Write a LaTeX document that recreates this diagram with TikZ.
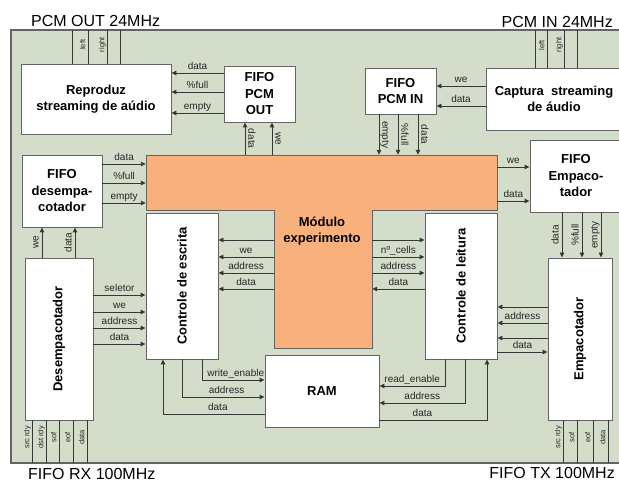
\documentclass[tikz,border=0pt]{standalone}
\usepackage{fontspec}
\usepackage{graphicx}
\setmainfont{Liberation Sans}
\usetikzlibrary{arrows.meta,calc}
\definecolor{bg}{RGB}{212,221,202}
\definecolor{orng}{RGB}{248,176,124}
\definecolor{bord}{RGB}{100,100,100}
\definecolor{wire}{RGB}{55,55,55}
\begin{document}
\begin{tikzpicture}[x=1pt,y=-1pt,
  box/.style={draw=bord, fill=white, line width=0.9pt, inner sep=0pt, align=center,
              font=\fontsize{13}{16.5}\selectfont\bfseries},
  sig/.style={draw=wire, line width=0.9pt},
  arr/.style={sig, -{Triangle[length=5pt,width=4.5pt]}},
  lab/.style={font=\fontsize{10}{11}\selectfont, text=black!85, inner sep=1pt,
              text height=7pt, text depth=2pt},
  tiny/.style={font=\fontsize{7.5}{8}\selectfont, text=black!85, inner sep=0.8pt,
               text height=5.5pt, text depth=1.5pt, rotate=90, anchor=south},
  title/.style={font=\fontsize{16}{17}\selectfont, inner sep=0pt}
]
\useasboundingbox (0,0) rectangle (619,481);
\clip (0,0) rectangle (619,481);
\fill[white] (0,0) rectangle (619,481);

% titles
\node[title, anchor=base west] (t1) at (31,27) {PCM OUT 24MHz};
\node[title, anchor=base east] (t2) at (613,28) {PCM IN 24MHz};
\node[title, anchor=base west] (t3) at (28,479) {FIFO RX 100MHz};
\node[title, anchor=base east] (t4) at (615,478.5) {FIFO TX 100MHz};

% frame
\path[fill=bg, draw=bord, line width=1.4pt] (11,30) rectangle (650,463);
\coordinate (ftop) at (0,30);
\coordinate (fbot) at (0,463);

% Modulo experimento (T shape)
\path[fill=orng, draw=bord, line width=0.9pt] (146,155) -- (497,155) -- (497,210) -- (372,210)
  -- (372,348) -- (274,348) -- (274,210) -- (146,210) -- cycle;
\node[inner sep=0pt, minimum width=351pt, minimum height=55pt] (modbar) at (321.5,182.5) {};
\node[inner sep=0pt, minimum width=98pt, minimum height=138pt] (modstem) at (323,279) {};
\node[align=center, inner sep=0pt, font=\fontsize{13}{16.5}\selectfont\bfseries] (modtxt) at (322,231) {Módulo\\experimento};

% boxes
\node[box, minimum width=150pt, minimum height=70pt] (repro) at (96,99) {Reproduz\\streaming de aúdio};
\node[box, minimum width=71pt, minimum height=56pt] (fpo) at (259.5,94) {FIFO\\PCM\\OUT};
\node[box, minimum width=71pt, minimum height=46pt] (fpi) at (400.5,91) {FIFO\\PCM IN};
\node[box, minimum width=136pt, minimum height=62pt] (cap) at (554,99) {Captura\ \ streaming\\de áudio};
\node[box, minimum width=92pt, minimum height=72pt] (fe) at (576,176) {FIFO\\Empaco-\\tador};
\node[box, minimum width=80pt, minimum height=72pt] (fd) at (62,191) {FIFO\\desempa-\\cotador};
\node[box, minimum width=68pt, minimum height=162pt] (desemp) at (59,339) {\rotatebox{90}{Desempacotador}};
\node[box, minimum width=72pt, minimum height=146pt] (ce) at (182,286) {\rotatebox{90}{Controle de escrita}};
\node[box, minimum width=72pt, minimum height=146pt] (cl) at (461,286) {\rotatebox{90}{Controle de leitura}};
\node[box, minimum width=64pt, minimum height=162pt] (emp) at (580,339) {\rotatebox{90}{Empacotador}};
\node[box, minimum width=114pt, minimum height=72pt] (ram) at (322,391) {RAM};

% audio pins
\draw[sig] (repro.north -| 72,0) -- (ftop -| 72,0);
\draw[sig] (repro.north -| 88,0) -- node[tiny, pos=0.56] {left} (ftop -| 88,0);
\draw[sig] (repro.north -| 107,0) -- node[tiny, pos=0.56] {right} (ftop -| 107,0);
\draw[sig] (repro.north -| 120,0) -- (ftop -| 120,0);
\draw[sig] (cap.north -| 535,0) -- (ftop -| 535,0);
\draw[sig] (cap.north -| 547,0) -- node[tiny, pos=0.6] {left} (ftop -| 547,0);
\draw[sig] (cap.north -| 564,0) -- node[tiny, pos=0.6] {right} (ftop -| 564,0);
\draw[sig] (cap.north -| 577,0) -- (ftop -| 577,0);

% FIFO pins
\draw[sig] (desemp.south -| 32,0) -- node[tiny, pos=0.4] {src rdy} (fbot -| 32,0);
\draw[sig] (desemp.south -| 46,0) -- node[tiny, pos=0.4] {dst rdy} (fbot -| 46,0);
\draw[sig] (desemp.south -| 59,0) -- node[tiny, pos=0.4] {sof} (fbot -| 59,0);
\draw[sig] (desemp.south -| 73,0) -- node[tiny, pos=0.4] {eof} (fbot -| 73,0);
\draw[sig] (desemp.south -| 87,0) -- node[tiny, pos=0.4] {data} (fbot -| 87,0);
\draw[sig] (emp.south -| 563,0) -- node[tiny, pos=0.4] {src rdy} (fbot -| 563,0);
\draw[sig] (emp.south -| 577,0) -- node[tiny, pos=0.4] {sof} (fbot -| 577,0);
\draw[sig] (emp.south -| 593,0) -- node[tiny, pos=0.4] {eof} (fbot -| 593,0);
\draw[sig] (emp.south -| 608,0) -- node[tiny, pos=0.4] {data} (fbot -| 608,0);

% FIFO PCM OUT -> Reproduz
\foreach \y/\t in {73/data,92/{\%full},113/empty}
  \draw[arr] (fpo.west |- 0,\y) -- node[lab, above] {\t} (repro.east |- 0,\y);
% Modulo -> FIFO PCM OUT
\draw[arr] (modbar.north -| 245,0) -- node[lab, rotate=-90, anchor=south] {data} (fpo.south -| 245,0);
\draw[arr] (modbar.north -| 272,0) -- node[lab, rotate=-90, anchor=south] {we} (fpo.south -| 272,0);
% Captura -> FIFO PCM IN
\foreach \y/\t in {86/we,106/data}
  \draw[arr] (cap.west |- 0,\y) -- node[lab, above] {\t} (fpi.east |- 0,\y);
% FIFO PCM IN -> Modulo
\foreach \x/\t in {379/empty,398/{\%full},418/data}
  \draw[arr] (fpi.south -| \x,0) -- node[lab, rotate=-90, anchor=south] {\t} (modbar.north -| \x,0);
% FIFO desempacotador -> Modulo
\foreach \y/\t in {164/data,183/{\%full},203/empty}
  \draw[arr] (fd.east |- 0,\y) -- node[lab, above] {\t} (modbar.west |- 0,\y);
% Desempacotador -> FIFO desempacotador
\draw[arr] (desemp.north -| 42,0) -- node[lab, rotate=90, anchor=south] {we} (fd.south -| 42,0);
\draw[arr] (desemp.north -| 75,0) -- node[lab, rotate=90, anchor=south] {data} (fd.south -| 75,0);
% Desempacotador -> Controle de escrita
\foreach \y/\t in {295/seletor,312/we,328/address,344/data}
  \draw[arr] (desemp.east |- 0,\y) -- node[lab, above] {\t} (ce.west |- 0,\y);
% Modulo -> Controle de escrita
\foreach \y/\t in {240/{},257/we,273/address,289/data}
  \draw[arr] (modstem.west |- 0,\y) -- node[lab, above] {\t} (ce.east |- 0,\y);
% Modulo <-> Controle de leitura
\foreach \y/\t in {240/{},257/{nº\_cells},273/address}
  \draw[arr] (modstem.east |- 0,\y) -- node[lab, above] {\t} (cl.west |- 0,\y);
\draw[arr] (cl.west |- 0,289) -- node[lab, above] {data} (modstem.east |- 0,289);
% Modulo -> FIFO Empacotador
\foreach \y/\t in {167/we,201/data}
  \draw[arr] (modbar.east |- 0,\y) -- node[lab, above] {\t} (fe.west |- 0,\y);
% FIFO Empacotador -> Empacotador
\foreach \x/\t in {562/data,582/{\%full},601/empty}
  \draw[arr] (fe.south -| \x,0) -- node[lab, rotate=90, anchor=south] {\t} (emp.north -| \x,0);
% Empacotador <-> Controle de leitura
\foreach \y/\t in {307/{},323/address,338/{}}
  \draw[arr] (emp.west |- 0,\y) -- node[lab, above] {\t} (cl.east |- 0,\y);
\draw[arr] (cl.east |- 0,352) -- node[lab, above] {data} (emp.west |- 0,352);

% RAM connections
\draw[arr] (ce.south -| 202,0) |- node[lab, above, pos=0.77] {write\_enable} (ram.west |- 0,380);
\draw[arr] (ce.south -| 182,0) |- node[lab, above, pos=0.77] {address} (ram.west |- 0,397);
\draw[arr] (ram.west |- 0,414) -| node[lab, above, pos=0.23] {data} (ce.south -| 163,0);
\draw[arr] (cl.south -| 445,0) |- node[lab, above, pos=0.75] {read\_enable} (ram.east |- 0,386);
\draw[arr] (cl.south -| 465,0) |- node[lab, above, pos=0.75] {address} (ram.east |- 0,403);
\draw[arr] (ram.east |- 0,420) -| node[lab, above, pos=0.2] {data} (cl.south -| 487,0);
\end{tikzpicture}
\end{document}
